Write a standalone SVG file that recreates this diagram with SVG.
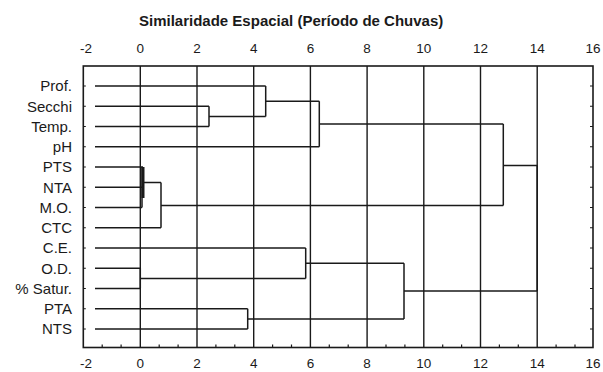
<svg xmlns="http://www.w3.org/2000/svg" width="603" height="372" viewBox="0 0 603 372">
<style>
.t{font-family:"Liberation Sans",Arial,sans-serif;fill:#1a1a1a}
.title{font-size:15px;font-weight:bold}
.num{font-size:13.5px;text-anchor:middle}
.lab{font-size:15px;text-anchor:end}
.grid{stroke:#1a1a1a;stroke-width:1.4;fill:none}
.frame{stroke:#1a1a1a;stroke-width:1.6;fill:none}
.tick{stroke:#1a1a1a;stroke-width:1.2}
.link{stroke:#1a1a1a;stroke-width:1.5;fill:none}
</style>
<rect width="603" height="372" fill="#fff"/>
<text class="t title" x="139" y="25.5">Similaridade Espacial (Período de Chuvas)</text>
<g id="axes">
<rect class="frame" x="83.3" y="66" width="509.7" height="281.5"/>
<g class="grid">
<path d="M140.3 66V347.5M197 66V347.5M253.7 66V347.5M310.4 66V347.5M367.1 66V347.5M423.8 66V347.5M480.5 66V347.5M537.2 66V347.5"/>
</g>
<g class="tick">
<path d="M102.2 347.5v-3M121.1 347.5v-3M159.2 347.5v-3M178.1 347.5v-3M215.9 347.5v-3M234.8 347.5v-3M272.6 347.5v-3M291.5 347.5v-3M329.3 347.5v-3M348.2 347.5v-3M386 347.5v-3M404.9 347.5v-3M442.7 347.5v-3M461.6 347.5v-3M499.4 347.5v-3M518.3 347.5v-3M556.1 347.5v-3M575 347.5v-3"/>
<path d="M83.3 86h2.5M83.3 106.25h2.5M83.3 126.5h2.5M83.3 146.75h2.5M83.3 167h2.5M83.3 187.25h2.5M83.3 207.5h2.5M83.3 227.75h2.5M83.3 248h2.5M83.3 268.25h2.5M83.3 288.5h2.5M83.3 308.75h2.5M83.3 329h2.5"/>
<path d="M593 86h-3M593 106.25h-3M593 126.5h-3M593 146.75h-3M593 167h-3M593 187.25h-3M593 207.5h-3M593 227.75h-3M593 248h-3M593 268.25h-3M593 288.5h-3M593 308.75h-3M593 329h-3"/>
</g>
<g class="t num">
<text x="86" y="52.5">-2</text><text x="140.3" y="52.5">0</text><text x="197" y="52.5">2</text><text x="253.7" y="52.5">4</text><text x="310.4" y="52.5">6</text><text x="367.1" y="52.5">8</text><text x="423.8" y="52.5">10</text><text x="480.5" y="52.5">12</text><text x="537.2" y="52.5">14</text><text x="593" y="52.5">16</text>
<text x="86" y="367.5">-2</text><text x="140.3" y="367.5">0</text><text x="197" y="367.5">2</text><text x="253.7" y="367.5">4</text><text x="310.4" y="367.5">6</text><text x="367.1" y="367.5">8</text><text x="423.8" y="367.5">10</text><text x="480.5" y="367.5">12</text><text x="537.2" y="367.5">14</text><text x="593" y="367.5">16</text>
</g>
</g>
<g id="n-prof"><text class="t lab" x="72" y="91.3">Prof.</text></g>
<g id="n-secchi"><text class="t lab" x="72" y="111.5">Secchi</text></g>
<g id="n-temp"><text class="t lab" x="72" y="131.8">Temp.</text></g>
<g id="n-ph"><text class="t lab" x="72" y="152">pH</text></g>
<g id="n-pts"><text class="t lab" x="72" y="172.3">PTS</text></g>
<g id="n-nta"><text class="t lab" x="72" y="192.5">NTA</text></g>
<g id="n-mo"><text class="t lab" x="72" y="212.8">M.O.</text></g>
<g id="n-ctc"><text class="t lab" x="72" y="233">CTC</text></g>
<g id="n-ce"><text class="t lab" x="72" y="253.3">C.E.</text></g>
<g id="n-od"><text class="t lab" x="72" y="273.5">O.D.</text></g>
<g id="n-satur"><text class="t lab" x="72" y="293.8">% Satur.</text></g>
<g id="n-pta"><text class="t lab" x="72" y="314">PTA</text></g>
<g id="n-nts"><text class="t lab" x="72" y="334.3">NTS</text></g>
<g id="connectors" class="link">
<path d="M95 86H265.7M95 106.25H209M95 126.5H209M209 106.25V126.5M209 116.4H265.7M265.7 86V116.4M265.7 101.2H319.3M95 146.75H319.3M319.3 101.2V146.75M319.3 124H503.3"/>
<path d="M95 167H143M95 187.25H143M95 207.5H142M142 167V207.5M143 182.5H161M95 227.75H161M161 182.5V227.75M161 205.5H503.3"/>
<path d="M143 167V198" stroke-width="3"/>
<path d="M503.3 124V205.5M503.3 165.5H537.2"/>
<path d="M95 248H305.7M95 268.25H140.3M95 288.5H140.3M140.3 268.25V288.5M140.3 278.4H305.7M305.7 248V278.4M305.7 263.2H404"/>
<path d="M95 308.75H247.7M95 329H247.7M247.7 308.75V329M247.7 318.9H404M404 263.2V318.9M404 291H537.2M537.2 165.5V291"/>
</g>
</svg>
